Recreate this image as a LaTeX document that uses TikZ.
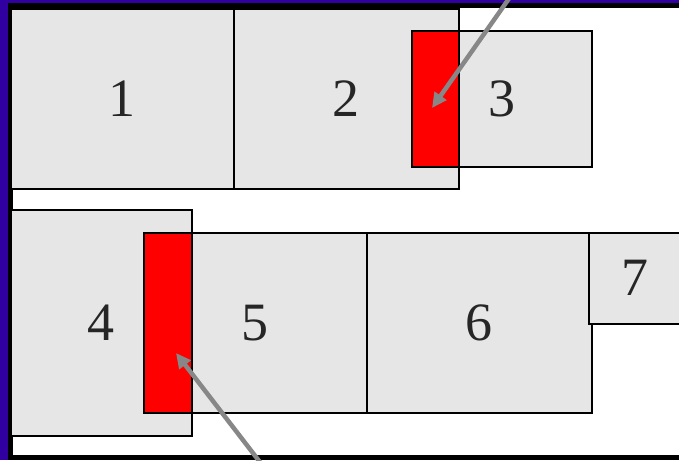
\documentclass[tikz,border=0pt]{standalone}
\usepackage{fontspec}
\setmainfont{Liberation Serif}
\usetikzlibrary{arrows.meta,calc}
\definecolor{framebl}{RGB}{48,0,160}
\definecolor{boxgray}{RGB}{230,230,230}
\definecolor{arrgray}{RGB}{135,135,135}
\tikzset{
  box/.style={draw=black, line width=1.6pt, fill=boxgray, anchor=north west, inner sep=0pt,
    font=\fontsize{54}{60}\selectfont, text=black!85},
  redbox/.style={draw=black, line width=1.6pt, fill=red, anchor=north west, inner sep=0pt},
  pointer/.style={draw=arrgray, line width=4.5pt, -{Triangle[length=15pt,width=14pt]}}
}
\begin{document}
\begin{tikzpicture}[x=1pt,y=-1pt]
\useasboundingbox (0,0) rectangle (679,460);
\clip (0,0) rectangle (679,460);
\fill[framebl] (0,0) rectangle (679,460);
\draw[black, line width=5pt, fill=white] (10.5,5.5) rectangle (720,457.5);
% top row
\node[box, minimum width=223pt, minimum height=180pt] (b1) at (10,8) {1};
\node[box, minimum width=225pt, minimum height=180pt] (b2) at (233,8) {2};
\node[box, minimum width=180pt, minimum height=136pt] (b3) at (411,30) {3};
\node[redbox, minimum width=47pt, minimum height=136pt] (r1) at (411,30) {};
% bottom row
\node[box, minimum width=181pt, minimum height=226pt] (b4) at (10,209) {4};
\node[box, minimum width=223pt, minimum height=180pt] (b5) at (143,232) {5};
\node[redbox, minimum width=48pt, minimum height=180pt] (r2) at (143,232) {};
\node[box, minimum width=225pt, minimum height=180pt] (b6) at (366,232) {6};
\node[box, minimum width=93pt, minimum height=91pt] (b7) at (588,232) {7};
% pointers
\coordinate (s1) at (515,-10);
\coordinate (t1) at ($(r1.north west)+(21,78)$);
\coordinate (s2) at (266,470);
\coordinate (t2) at ($(r2.north west)+(33,121)$);
\draw[pointer] (s1) -- (t1);
\draw[pointer] (s2) -- (t2);
\end{tikzpicture}
\end{document}
